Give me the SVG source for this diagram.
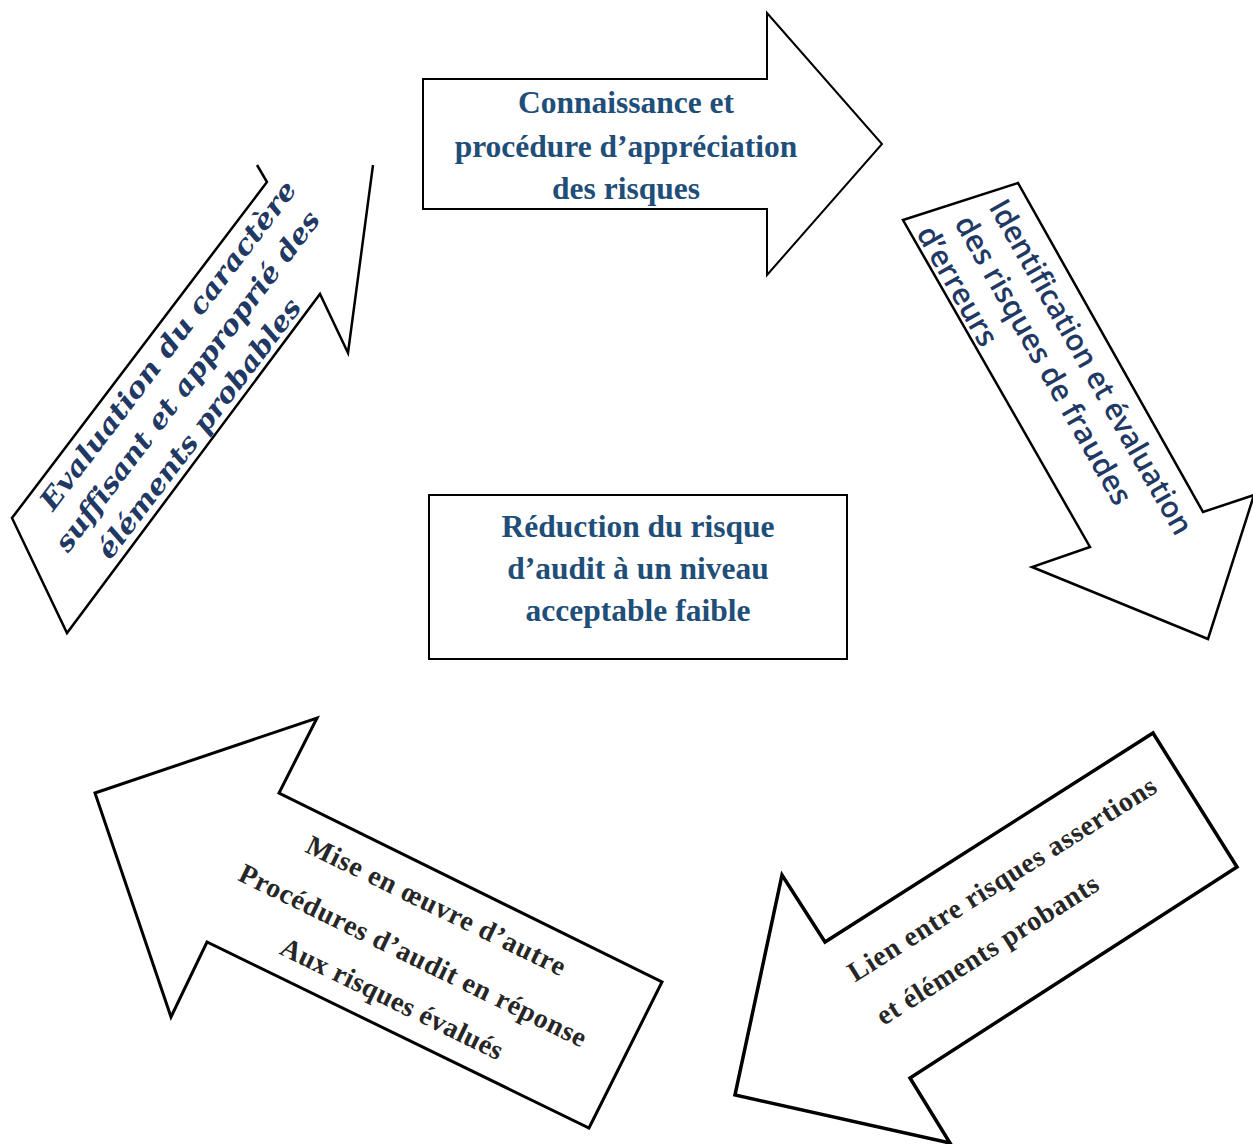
<svg xmlns="http://www.w3.org/2000/svg" width="1253" height="1144" viewBox="0 0 1253 1144">
  <style>
    .shape { fill: #ffffff; stroke: #000000; stroke-linejoin: miter; }
    .blue-serif { font-family: "Liberation Serif", "Times New Roman", serif; font-weight: bold; font-size: 31.5px; fill: #1f4e79; text-anchor: middle; }
    .navy-italic { font-family: "DejaVu Serif", serif; font-style: italic; font-weight: bold; font-size: 27px; fill: #1f3864; }
    .navy-sans { font-family: "Open Sans", "Noto Sans", sans-serif; font-weight: 600; font-size: 30px; fill: #1f3864; }
    .dark-serif { font-family: "Liberation Serif", "Times New Roman", serif; font-weight: bold; font-size: 28px; fill: #262626; }
  </style>

  <rect width="1253" height="1144" fill="#ffffff"/>

  <!-- block arrows forming the cycle -->
  <g id="connectors">
    <!-- top: pointing right -->
    <g id="arrow-connaissance">
      <polygon class="shape" stroke-width="2" points="423,79 767,79 767,13 882,144 767,275 767,209 423,209"/>
      <text class="blue-serif" x="626" y="113">Connaissance et</text>
      <text class="blue-serif" x="626" y="157">procédure d’appréciation</text>
      <text class="blue-serif" x="626" y="199">des risques</text>
    </g>

    <!-- right: pointing down-right -->
    <g id="arrow-identification">
      <polygon class="shape" stroke-width="2.5" points="903,220 1018,183 1203,512 1254,495 1208,639 1032,567 1090,547"/>
      <g transform="rotate(60.4)">
        <text class="navy-sans" x="668" y="-757" textLength="380" lengthAdjust="spacingAndGlyphs">Identification  et évaluation</text>
        <text class="navy-sans" x="665" y="-719" textLength="327" lengthAdjust="spacingAndGlyphs">des risques de fraudes</text>
        <text class="navy-sans" x="655" y="-681" textLength="133" lengthAdjust="spacingAndGlyphs">d’erreurs</text>
      </g>
    </g>

    <!-- bottom right: pointing down-left -->
    <g id="arrow-lien">
      <polygon class="shape" stroke-width="3.5" points="1153,733 1237,867 910,1078 950,1143 735,1095 782,875 825,942"/>
      <g transform="rotate(-32.2)">
        <text class="dark-serif" x="200" y="1287" textLength="359" lengthAdjust="spacing">Lien entre risques assertions</text>
        <text class="dark-serif" x="201" y="1339" textLength="257" lengthAdjust="spacing">et éléments probants</text>
      </g>
    </g>

    <!-- bottom left: pointing up-left -->
    <g id="arrow-mise-en-oeuvre">
      <polygon class="shape" stroke-width="3" points="95,793 317,718 279,793 662,982 589,1128 207,942 171,1017"/>
      <g transform="rotate(26)">
        <text class="dark-serif" x="789" y="632" text-anchor="middle" textLength="285" lengthAdjust="spacing">Mise en œuvre d’autre</text>
        <text class="dark-serif" x="790" y="687" text-anchor="middle" textLength="383" lengthAdjust="spacing">Procédures d’audit en réponse</text>
        <text class="dark-serif" x="790" y="735" text-anchor="middle" textLength="244" lengthAdjust="spacing">Aux risques évalués</text>
      </g>
    </g>

    <!-- left: pointing up-right, head cut at the top -->
    <g id="arrow-evaluation">
      <path class="shape" stroke-width="2.5" d="M257,165 L267,182 L12,518 L67,633 L320,294 L348,353 L373,165"/>
      <g transform="rotate(-52.8)">
        <text class="navy-italic" x="-376" y="352" textLength="405" lengthAdjust="spacingAndGlyphs">Evaluation du caractère</text>
        <text class="navy-italic" x="-400" y="389" textLength="419" lengthAdjust="spacingAndGlyphs">suffisant et approprié des</text>
        <text class="navy-italic" x="-380" y="427" textLength="318" lengthAdjust="spacingAndGlyphs">éléments probables</text>
      </g>
    </g>
  </g>

  <!-- central goal box -->
  <g id="node-reduction">
    <rect class="shape" stroke-width="2" x="429" y="495" width="418" height="164"/>
    <text class="blue-serif" x="638" y="537">Réduction du risque</text>
    <text class="blue-serif" x="638" y="579">d’audit à un niveau</text>
    <text class="blue-serif" x="638" y="621">acceptable faible</text>
  </g>
</svg>
